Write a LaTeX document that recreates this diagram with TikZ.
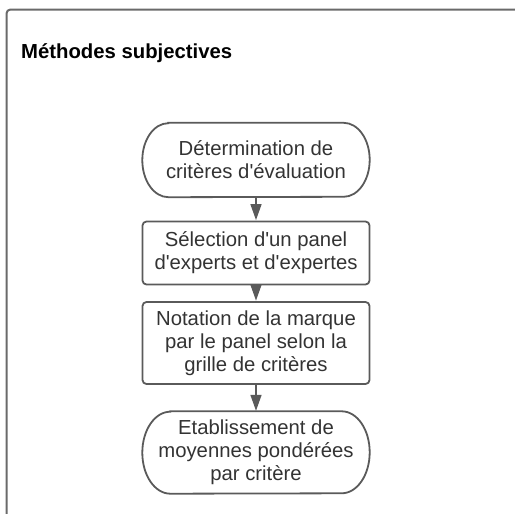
\documentclass[tikz,border=0pt]{standalone}
\usepackage{fontspec}
\setmainfont{Liberation Sans}
\usetikzlibrary{arrows.meta,calc}
\definecolor{txt}{HTML}{333333}
\definecolor{edge}{HTML}{5A5A5A}
\definecolor{framec}{HTML}{6A6A6A}
\newcommand{\q}{\textquotesingle}
\tikzset{
  box/.style={draw=edge, line width=1.8pt, rounded corners=4pt, minimum width=227pt, inner sep=0pt, align=center, text=txt, font=\fontsize{20.3}{23}\selectfont},
  term/.style={draw=none, minimum width=227pt, inner sep=0pt, align=center, text=txt, font=\fontsize{20.3}{23}\selectfont},
  flow/.style={draw=edge, line width=1.5pt, -{Triangle[length=16pt,width=11pt]}, shorten >=0.5pt},
}
\newcommand{\termoutline}[2]{%
  \draw[draw=edge, line width=1.8pt]
    ([xshift=#2]#1.north west) -- ([xshift=-#2]#1.north east)
    arc[start angle=90, end angle=-90, x radius=#2, y radius=0.5*\termh]
    -- ([xshift=#2]#1.south west)
    arc[start angle=270, end angle=90, x radius=#2, y radius=0.5*\termh] -- cycle;}
\begin{document}
\begin{tikzpicture}[x=1pt,y=-1pt]
\useasboundingbox (0,0) rectangle (515,514);
\draw[framec, line width=2pt, rounded corners=4pt] (530,9.5) -- (6.5,9.5) -- (6.5,530);
\node[anchor=base west, inner sep=0pt, font=\bfseries\fontsize{20.3}{22}\selectfont] (title) at (21,58) {Méthodes subjectives};
\node[term, minimum height=74pt] (n1) at (256,160) {Détermination de\\critères d\q évaluation};
\node[box, minimum height=63pt] (n2) at (256,253) {Sélection d\q un panel\\d\q experts et d\q expertes};
\node[box, minimum height=82pt] (n3) at (256,343) {Notation de la marque\\par le panel selon la\\grille de critères};
\node[term, minimum height=82pt] (n4) at (256,452.5) {Etablissement de\\moyennes pondérées\\par critère};
\def\termh{74pt}\termoutline{n1}{26pt}
\def\termh{82pt}\termoutline{n4}{28pt}
\draw[flow] (n1.south) -- (n2.north);
\draw[flow] (n2.south) -- (n3.north);
\draw[flow] (n3.south) -- (n4.north);
\end{tikzpicture}
\end{document}
